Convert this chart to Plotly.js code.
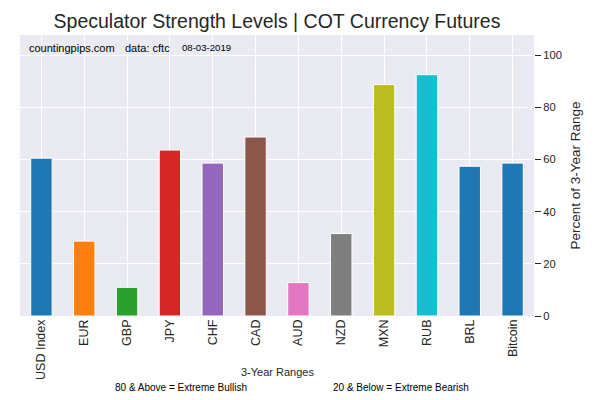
<!DOCTYPE html>
<html>
<head>
<meta charset="utf-8">
<script src="https://cdn.plot.ly/plotly-3.0.1.min.js"></script>
<style>html,body{margin:0;padding:0;background:#fff;}#chart{width:600px;height:400px;}</style>
</head>
<body>
<div id="chart"></div>
<script>
const categories = ["USD Index","EUR","GBP","JPY","CHF","CAD","AUD","NZD","MXN","RUB","BRL","Bitcoin"];
const values = [60.5, 28.7, 11.0, 63.6, 58.6, 68.6, 12.8, 31.6, 88.7, 92.5, 57.4, 58.6];
const colors = ["#1f77b4","#ff7f0e","#2ca02c","#d62728","#9467bd","#8c564b","#e377c2","#7f7f7f","#bcbd22","#17becf","#1f77b4","#1f77b4"];
const yTicks = [0, 20, 40, 60, 80, 100];

const font = "Liberation Sans, Arial, sans-serif";
const trace = {
  type: "bar",
  x: categories.map((c, i) => i),
  y: values,
  width: 0.5,
  marker: {color: colors, line: {color: "#ffffff", width: 1}},
  hoverinfo: "x+y"
};
const layout = {
  width: 600, height: 400,
  margin: {l: 20, r: 66, t: 35, b: 84},
  paper_bgcolor: "#ffffff",
  plot_bgcolor: "#EAEAF2",
  font: {family: font, color: "#262626"},
  showlegend: false,
  title: {text: "Speculator Strength Levels | COT Currency Futures", font: {size: 19.5, color: "#262626", family: font}, xref: "paper", x: 0.5, xanchor: "center", y: 0.948, yanchor: "middle"},
  xaxis: {
    range: [-0.5, 11.5],
    tickmode: "array",
    tickvals: categories.map((c, i) => i),
    ticktext: categories,
    tickangle: -90,
    tickfont: {size: 12.5, color: "#262626"},
    showgrid: true, gridcolor: "#ffffff", gridwidth: 1,
    zeroline: false, showline: false, ticks: ""
  },
  yaxis: {
    side: "right",
    range: [0, 107.7],
    tickmode: "array",
    tickvals: yTicks,
    ticks: "outside", ticklen: 6, tickcolor: "#262626", tickwidth: 1,
    tickfont: {size: 11.2, color: "#262626"},
    showgrid: true, gridcolor: "#ffffff", gridwidth: 1,
    zeroline: false, showline: false,
    title: {text: "Percent of 3-Year Range", font: {size: 13.5, color: "#262626"}, standoff: 9}
  },
  annotations: [
    {xref: "paper", yref: "paper", x: 0.0136, y: 0.955, xanchor: "left", yanchor: "middle", showarrow: false, text: "countingpips.com", font: {size: 11, color: "#000000"}},
    {xref: "paper", yref: "paper", x: 0.2, y: 0.955, xanchor: "left", yanchor: "middle", showarrow: false, text: "data: cftc", font: {size: 11, color: "#000000"}},
    {xref: "paper", yref: "paper", x: 0.311, y: 0.955, xanchor: "left", yanchor: "middle", showarrow: false, text: "08-03-2019", font: {size: 9.6, color: "#000000"}},
    {xref: "paper", yref: "paper", x: 0.5, y: -0.199, xanchor: "center", yanchor: "middle", showarrow: false, text: "3-Year Ranges", font: {size: 11, color: "#262626"}},
    {xref: "paper", yref: "paper", x: 0.181, y: -0.256, xanchor: "left", yanchor: "middle", showarrow: false, text: "80 & Above = Extreme Bullish", font: {size: 10, color: "#000000"}},
    {xref: "paper", yref: "paper", x: 0.605, y: -0.256, xanchor: "left", yanchor: "middle", showarrow: false, text: "20 & Below = Extreme Bearish", font: {size: 10, color: "#000000"}}
  ]
};
Plotly.newPlot("chart", [trace], layout, {displayModeBar: false, staticPlot: true});
</script>
</body>
</html>
